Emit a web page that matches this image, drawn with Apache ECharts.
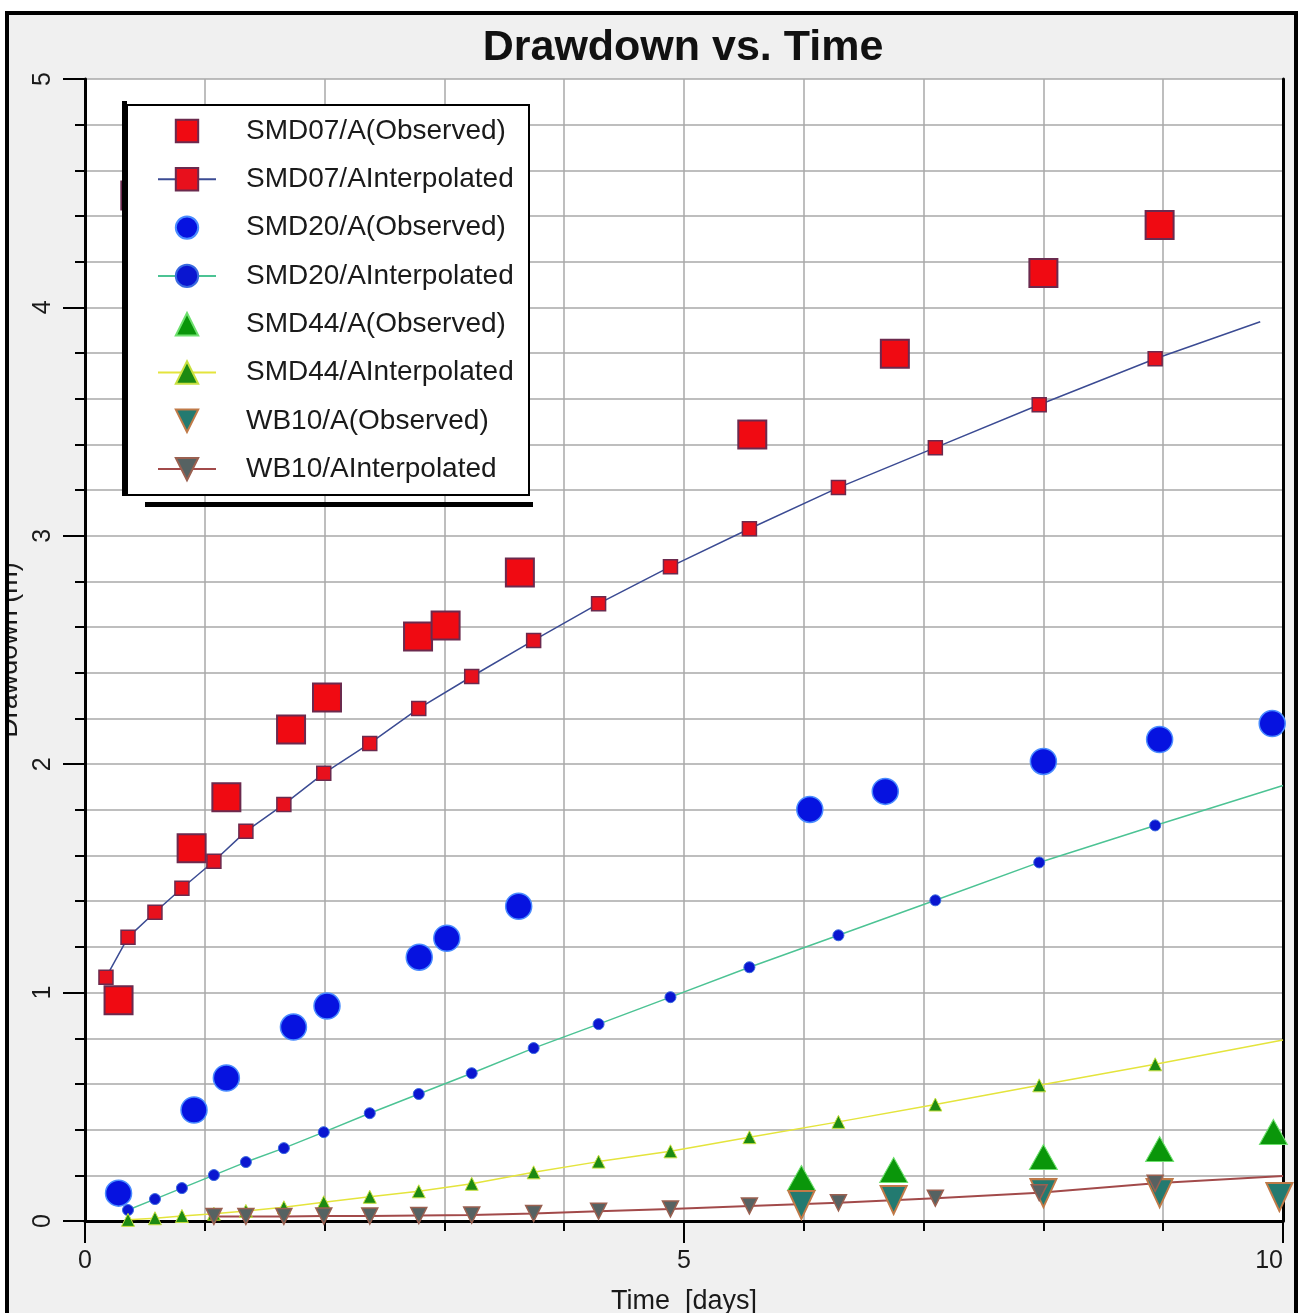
<!DOCTYPE html>
<html>
<head>
<meta charset="utf-8">
<script src="https://cdn.jsdelivr.net/npm/echarts@6/dist/echarts.min.js"></script>
<style>
  html, body { margin: 0; padding: 0; background: #ffffff; }
  #frame { position: absolute; left: 5px; top: 11px; width: 1285px; height: 1310px; border: 4px solid #000; background: #f0f0f0; }
  #chart { position: absolute; left: 9px; top: 0; width: 1289px; height: 1313px; }
</style>
</head>
<body>
<div id="frame"></div>
<div id="chart"></div>
<script>
// ---- Data (time in days, drawdown in m) ----
const seriesNames = [
  'SMD07/A(Observed)', 'SMD07/AInterpolated',
  'SMD20/A(Observed)', 'SMD20/AInterpolated',
  'SMD44/A(Observed)', 'SMD44/AInterpolated',
  'WB10/A(Observed)', 'WB10/AInterpolated'
];

const smd07ObsT = [0.28, 0.42, 0.89, 1.18, 1.72, 2.02, 2.78, 3.01, 3.63, 5.57, 6.76, 8.0, 8.97];
const smd07ObsD = [0.967, 4.49, 1.632, 1.855, 2.152, 2.292, 2.559, 2.607, 2.839, 3.443, 3.797, 4.151, 4.361];

const smd07IntT = [0.175, 0.359, 0.584, 0.809, 1.076, 1.343, 1.66, 1.993, 2.377, 2.786, 3.228, 3.745, 4.287, 4.887, 5.546, 6.289, 7.098, 7.965, 8.933, 9.81];
const smd07IntD = [1.067, 1.242, 1.352, 1.457, 1.575, 1.706, 1.824, 1.960, 2.091, 2.244, 2.384, 2.542, 2.703, 2.865, 3.031, 3.211, 3.386, 3.574, 3.775, 3.937];

const smd20ObsT = [0.28, 0.91, 1.18, 1.74, 2.02, 2.79, 3.02, 3.62, 6.05, 6.68, 8.0, 8.97, 9.91];
const smd20ObsD = [0.122, 0.486, 0.626, 0.849, 0.941, 1.155, 1.238, 1.378, 1.802, 1.881, 2.012, 2.108, 2.178];

const smd20IntT = [0.359, 0.584, 0.809, 1.076, 1.343, 1.66, 1.993, 2.377, 2.786, 3.228, 3.745, 4.287, 4.887, 5.546, 6.289, 7.098, 7.965, 8.933, 10.0];
const smd20IntD = [0.048, 0.096, 0.144, 0.201, 0.258, 0.319, 0.389, 0.472, 0.556, 0.647, 0.757, 0.862, 0.98, 1.111, 1.251, 1.404, 1.570, 1.732, 1.907];

const smd44ObsT = [5.98, 6.75, 8.0, 8.97, 9.92];
const smd44ObsD = [0.188, 0.223, 0.28, 0.315, 0.39];

const smd44IntT = [0.359, 0.584, 0.809, 1.076, 1.343, 1.66, 1.993, 2.377, 2.786, 3.228, 3.745, 4.287, 4.887, 5.546, 6.289, 7.098, 7.965, 8.933, 10.0];
const smd44IntD = [0.005, 0.012, 0.022, 0.032, 0.044, 0.06, 0.082, 0.106, 0.13, 0.163, 0.213, 0.26, 0.305, 0.367, 0.434, 0.51, 0.594, 0.686, 0.792];

const wb10ObsT = [5.98, 6.75, 8.0, 8.97, 9.97];
const wb10ObsD = [0.07, 0.092, 0.122, 0.122, 0.105];

const wb10IntT = [1.076, 1.343, 1.66, 1.993, 2.377, 2.786, 3.228, 3.745, 4.287, 4.887, 5.546, 6.289, 7.098, 7.965, 8.933, 10.0];
const wb10IntD = [0.02, 0.02, 0.02, 0.022, 0.022, 0.024, 0.026, 0.033, 0.043, 0.053, 0.066, 0.08, 0.1, 0.124, 0.165, 0.197];

const xTicks = { min: 0, max: 10, interval: 5, minorSplit: 5 };
const yTicks = { min: 0, max: 5, interval: 1, minorSplit: 5 };

// ---- helpers ----
function pairs(t, d) { return t.map((x, i) => [x, d[i]]); }
function pairsNoLastSymbol(t, d) {
  return t.map((x, i) => i === t.length - 1 ? { value: [x, d[i]], symbol: 'none' } : [x, d[i]]);
}

const FONT = '"Liberation Sans", Arial, sans-serif';
const gridColor = '#a9a9a9';

const chart = echarts.init(document.getElementById('chart'), null, { renderer: 'canvas' });

function observed(name, symbol, size, rotate, itemStyle, data) {
  return { name, type: 'line', z: 3, symbol, symbolSize: size, symbolRotate: rotate, showAllSymbol: true,
    lineStyle: { width: 0, opacity: 0 }, itemStyle, data };
}

const option = {
  animation: false,
  backgroundColor: 'transparent',
  grid: { left: 76, right: 15, top: 79, bottom: 92, show: true, backgroundColor: '#ffffff', borderWidth: 0,
          containLabel: false, outerBoundsMode: 'none' },
  xAxis: {
    type: 'value', min: xTicks.min, max: xTicks.max, interval: xTicks.interval,
    name: 'Time  [days]', nameLocation: 'middle', nameGap: 67,
    nameTextStyle: { fontFamily: FONT, fontSize: 27, color: '#1a1a1a' },
    axisLine: { show: true, onZero: false, lineStyle: { color: '#000', width: 3 } },
    axisTick: { show: true, length: 22, lineStyle: { color: '#000', width: 2 } },
    minorTick: { show: true, splitNumber: xTicks.minorSplit, length: 10, lineStyle: { color: '#000', width: 2 } },
    axisLabel: { fontFamily: FONT, fontSize: 25, color: '#1a1a1a', margin: 28, showMinLabel: true, showMaxLabel: true,
                 alignMaxLabel: 'right' },
    splitLine: { show: true, lineStyle: { color: gridColor, width: 1.5 } },
    minorSplitLine: { show: true, lineStyle: { color: gridColor, width: 1.5 } }
  },
  yAxis: [{
    type: 'value', min: yTicks.min, max: yTicks.max, interval: yTicks.interval,
    name: 'Drawdown (m)', nameLocation: 'middle', nameGap: 60,
    nameTextStyle: { fontFamily: FONT, fontSize: 27, color: '#1a1a1a' },
    axisLine: { show: true, onZero: false, lineStyle: { color: '#000', width: 3 } },
    axisTick: { show: true, length: 22, lineStyle: { color: '#000', width: 2 } },
    minorTick: { show: true, splitNumber: yTicks.minorSplit, length: 10, lineStyle: { color: '#000', width: 2 } },
    axisLabel: { fontFamily: FONT, fontSize: 25, color: '#1a1a1a', rotate: 90, margin: 29, showMinLabel: true, showMaxLabel: true },
    splitLine: { show: true, lineStyle: { color: gridColor, width: 1.5 } },
    minorSplitLine: { show: true, lineStyle: { color: gridColor, width: 1.5 } }
  }, {
    type: 'value', min: yTicks.min, max: yTicks.max, position: 'right',
    axisLine: { show: true, onZero: false, lineStyle: { color: '#000', width: 3 } },
    axisTick: { show: false }, axisLabel: { show: false }, splitLine: { show: false }
  }],
  legend: {
    show: true, orient: 'vertical', left: 118, top: 105,
    padding: [12, 10, 10, 30], itemWidth: 58, itemHeight: 28, itemGap: 20.3,
    selectedMode: false, z: 10,
    textStyle: { fontFamily: FONT, fontSize: 28, color: '#1a1a1a', padding: [0, 0, 0, 25] },
    data: seriesNames
  },
  graphic: [
    { type: 'rect', z: 8, shape: { x: 118, y: 105, width: 402, height: 390 }, style: { fill: '#ffffff', stroke: '#000', lineWidth: 2 } },
    { type: 'rect', z: 9, shape: { x: 113, y: 101, width: 5, height: 395 }, style: { fill: '#000' } },
    { type: 'rect', z: 9, shape: { x: 136, y: 502, width: 388, height: 5 }, style: { fill: '#000' } },
    { type: 'text', z: 10, style: { text: 'Drawdown vs. Time', x: 674, y: 48, textAlign: 'center', textVerticalAlign: 'middle', font: 'bold 43px "Liberation Sans", Arial, sans-serif', fill: '#111' } }
  ],
  series: [
    observed(seriesNames[0], 'rect', 28, 0, { color: '#f00a12', borderColor: '#6b2a4e', borderWidth: 2 }, pairs(smd07ObsT, smd07ObsD)),
    { name: seriesNames[1], type: 'line', z: 3, symbol: 'rect', symbolSize: 14, showAllSymbol: true,
      lineStyle: { color: '#3b4b93', width: 1.5 },
      itemStyle: { color: '#e8101c', borderColor: '#6b2a4e', borderWidth: 1.5 },
      data: pairsNoLastSymbol(smd07IntT, smd07IntD) },
    observed(seriesNames[2], 'circle', 26, 0, { color: '#0612e0', borderColor: '#4a8cff', borderWidth: 1.5 }, pairs(smd20ObsT, smd20ObsD)),
    { name: seriesNames[3], type: 'line', z: 3, symbol: 'circle', symbolSize: 11, showAllSymbol: true,
      lineStyle: { color: '#4cc394', width: 1.5 },
      itemStyle: { color: '#0a16d0', borderColor: '#3a6ae0', borderWidth: 1 },
      data: pairsNoLastSymbol(smd20IntT, smd20IntD) },
    observed(seriesNames[4], 'triangle', [28, 25], 0, { color: '#0a960a', borderColor: '#6ee06e', borderWidth: 1 }, pairs(smd44ObsT, smd44ObsD)),
    { name: seriesNames[5], type: 'line', z: 3, symbol: 'triangle', symbolSize: 13, showAllSymbol: true,
      lineStyle: { color: '#e4e43c', width: 1.5 },
      itemStyle: { color: '#1c8a12', borderColor: '#c8e040', borderWidth: 1 },
      data: pairsNoLastSymbol(smd44IntT, smd44IntD) },
    observed(seriesNames[6], 'triangle', [26, 28], 180, { color: '#237a70', borderColor: '#c07a48', borderWidth: 2 }, pairs(wb10ObsT, wb10ObsD)),
    { name: seriesNames[7], type: 'line', z: 3, symbol: 'triangle', symbolRotate: 180, symbolSize: 16, showAllSymbol: true,
      lineStyle: { color: '#a24a4a', width: 2 },
      itemStyle: { color: '#566262', borderColor: '#9a6050', borderWidth: 1.5 },
      data: pairsNoLastSymbol(wb10IntT, wb10IntD) }
  ]
};
chart.setOption(option);
</script>
</body>
</html>
